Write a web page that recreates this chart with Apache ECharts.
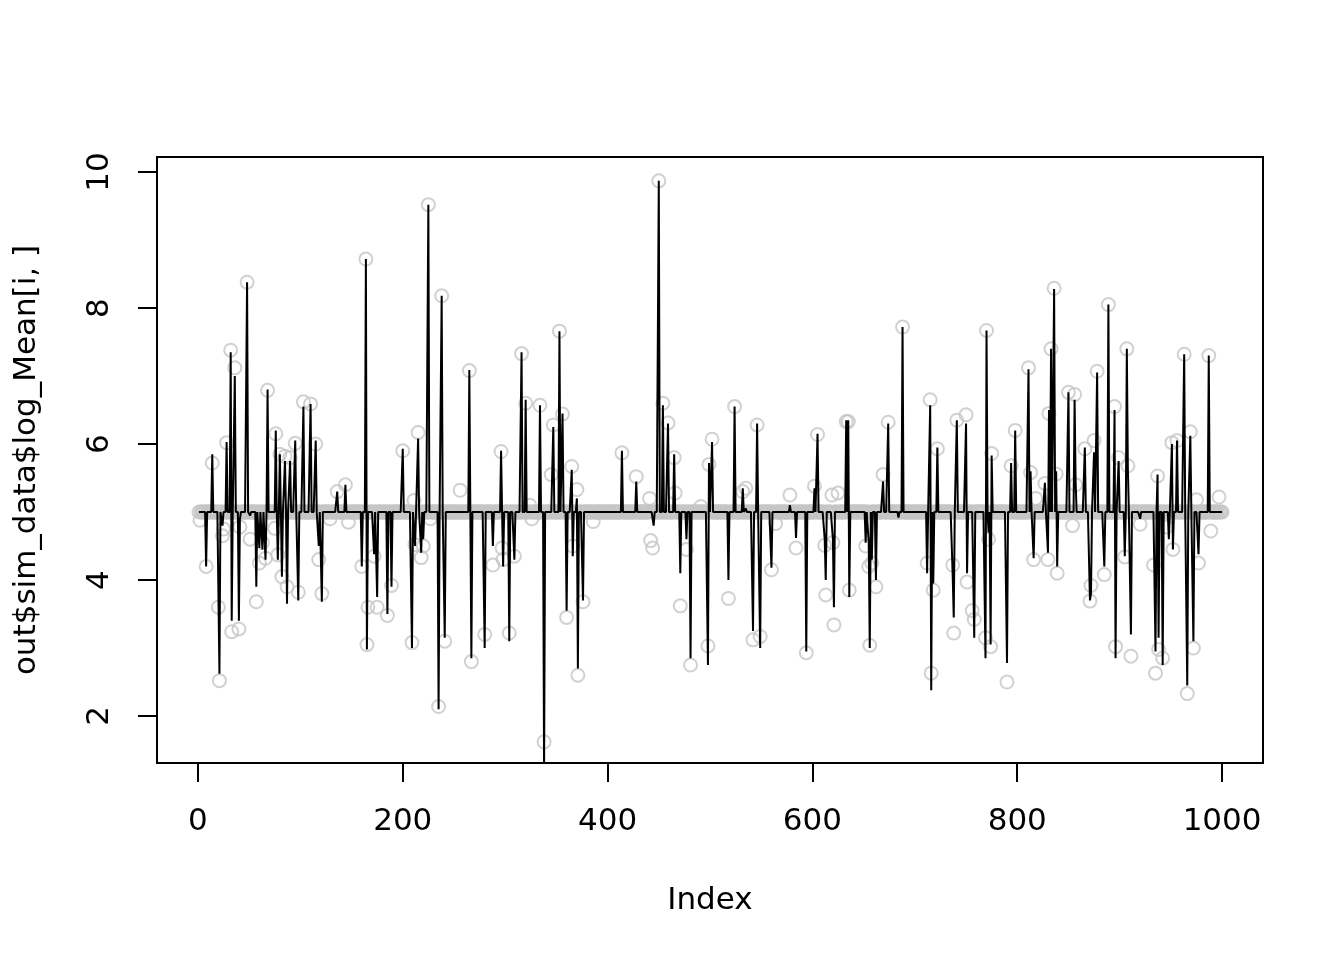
<!DOCTYPE html>
<html>
<head>
<meta charset="utf-8">
<script src="https://cdn.jsdelivr.net/npm/echarts@6/dist/echarts.min.js"></script>
<style>html,body{margin:0;padding:0;background:#fff}#c{width:1344px;height:960px}</style>
</head>
<body>
<div id="c"></div>
<script>
// ---- data ----
const nPoints = 1000;
const baseLevel = 5;

// simulated values (grey circles) that differ from the base level
const simIdx = [2,8,14,20,21,24,25,28,32,33,36,40,41,48,51,57,60,63,66,68,75,76,78,80,82,85,87,90,95,98,103,110,115,118,121,129,136,144,147,160,164,165,166,172,175,185,189,200,209,211,212,215,218,220,225,227,235,238,241,256,265,267,280,288,296,297,298,304,309,316,320,324,326,334,338,345,347,353,356,360,365,366,370,371,376,386,414,428,441,442,444,450,454,459,465,466,471,477,481,491,498,499,502,518,524,532,535,542,546,549,560,564,578,584,594,602,605,612,613,619,620,621,625,633,635,636,652,655,656,658,662,669,674,688,712,715,716,718,722,737,738,741,750,751,756,758,769,770,772,774,775,790,794,798,811,813,816,818,827,830,831,833,836,838,839,850,854,856,857,866,871,872,875,878,885,889,895,896,899,905,907,908,911,920,933,935,937,938,942,946,951,952,956,963,966,969,972,975,977,987,989,997];
const simVal = [4.88,4.2,5.72,3.6,2.52,4.65,4.75,6.02,7.38,3.24,7.12,3.28,4.78,8.38,4.6,3.68,4.25,4.55,4.32,6.79,4.76,6.15,4.37,5.85,4.05,5.82,3.9,5.8,6.01,3.82,6.62,6.59,6.0,4.3,3.8,4.9,5.3,5.4,4.85,4.2,8.72,3.05,3.6,4.35,3.6,3.48,3.92,5.9,3.08,5.17,4.52,6.17,4.33,4.5,9.52,4.9,2.14,8.18,3.1,5.32,7.08,2.8,3.2,4.22,5.89,4.47,4.3,3.22,4.35,7.33,6.6,5.1,4.9,6.57,1.62,5.55,6.28,7.66,6.44,3.45,5.67,4.5,5.33,2.6,3.68,4.86,5.87,5.52,5.2,4.58,4.47,9.87,6.6,6.31,5.8,5.28,3.62,4.45,2.75,5.08,3.03,5.7,6.07,3.73,6.55,5.3,5.35,3.12,6.28,3.17,4.15,4.83,5.25,4.47,2.93,5.38,6.14,4.51,3.78,5.25,4.55,3.34,5.28,6.33,6.33,3.85,4.5,4.2,3.04,4.25,3.9,5.55,6.32,7.72,4.25,6.65,2.63,3.85,5.93,4.22,3.22,6.35,6.43,3.97,3.55,3.42,3.15,7.67,4.6,3.02,5.86,2.5,5.68,6.2,7.12,5.58,4.3,5.2,5.42,4.3,6.45,7.4,8.29,5.56,4.1,6.76,4.8,6.73,5.4,5.93,3.69,3.92,6.05,7.07,4.08,8.05,6.55,3.02,5.8,4.34,7.4,5.68,2.88,4.82,4.22,2.63,5.53,2.98,2.85,4.78,6.02,4.45,6.05,7.32,2.33,6.18,3.0,5.18,4.25,7.3,4.72,5.22];

// estimated values (black line) that differ from the base level
const estIdx = [8,14,21,24,28,32,33,36,40,41,48,51,57,60,63,66,68,76,78,80,82,85,87,90,95,98,103,110,115,118,121,136,144,160,164,165,172,175,185,189,200,209,212,215,218,220,225,235,238,241,265,267,280,288,296,298,304,309,316,320,334,338,347,353,356,360,365,366,370,371,376,414,428,445,450,454,459,465,471,477,481,498,499,502,518,524,532,535,542,546,549,560,578,584,594,602,605,612,613,620,621,633,635,636,652,655,656,658,662,669,674,684,688,712,715,716,718,722,737,738,741,750,751,758,769,770,772,774,775,790,794,798,811,813,816,827,830,831,833,836,838,839,850,856,857,866,871,872,875,878,885,889,895,896,899,905,907,908,911,920,935,937,938,942,948,951,952,956,963,966,969,972,977,987];
const estVal = [4.2,5.85,2.62,4.8,6.03,7.35,3.4,7.0,3.4,4.9,8.38,4.95,3.9,4.47,4.45,4.3,6.8,6.2,4.3,5.85,4.05,5.75,3.65,5.75,6.05,3.7,6.55,6.59,6.05,4.5,3.68,5.3,5.4,4.2,8.72,2.98,4.38,3.75,3.5,3.9,5.93,3.0,4.5,6.08,4.4,4.6,9.52,2.1,8.18,3.15,7.09,2.85,3.0,4.5,5.9,4.2,3.1,4.3,7.35,6.65,6.57,1.2,6.25,7.66,6.45,3.55,5.62,4.35,5.2,2.7,3.7,5.9,5.45,4.8,9.87,6.57,6.3,5.85,4.1,4.6,2.85,2.75,5.72,6.03,4.0,6.55,5.35,5.05,3.25,6.3,3.0,4.18,5.1,4.62,2.95,5.35,6.15,4.6,4.0,4.6,3.6,6.35,6.35,3.75,4.55,4.55,3.0,4.3,4.0,5.45,6.3,4.92,7.72,4.1,6.57,2.38,3.95,5.95,4.05,3.45,6.35,6.3,4.1,3.15,2.85,7.67,4.7,3.05,5.83,2.78,5.72,6.2,7.1,5.6,4.32,5.43,4.4,6.5,7.4,8.28,5.6,4.2,6.76,6.65,5.45,5.95,3.7,3.8,5.88,7.05,4.2,8.05,6.5,2.85,5.75,4.35,7.4,5.65,3.2,4.9,2.95,5.55,3.15,2.75,4.6,6.0,4.45,6.05,7.32,2.45,6.12,3.1,4.38,7.3];

const xTicks = [0, 200, 400, 600, 800, 1000];
const yTicks = [2, 4, 6, 8, 10];
const xTitle = 'Index';
const yTitle = 'out$sim_data$log_Mean[i, ]';

// ---- build series data ----
function buildSeries(idx, val) {
  const out = [];
  for (let i = 1; i <= nPoints; i++) out.push([i, baseLevel]);
  idx.forEach((k, j) => { out[k - 1] = [k, val[j]]; });
  return out;
}
const simData = buildSeries(simIdx, simVal);
const estData = buildSeries(estIdx, estVal);

const FONT = 'DejaVu Sans';
const chart = echarts.init(document.getElementById('c'), null, {renderer: 'canvas'});
chart.setOption({
  animation: false,
  backgroundColor: '#ffffff',
  grid: {left: 157, right: 81, top: 157, bottom: 197, show: true, borderColor: '#000', borderWidth: 2, backgroundColor: 'transparent'},
  xAxis: {
    type: 'value', min: -39.96, max: 1039.96,
    axisLine: {show: false, onZero: false},
    splitLine: {show: false},
    axisTick: {show: true, customValues: xTicks, length: 19, lineStyle: {color: '#000', width: 2}},
    axisLabel: {customValues: xTicks, formatter: (v) => String(v), fontFamily: FONT, fontSize: 31, color: '#000', margin: 59, verticalAlign: 'middle'},
    name: xTitle, nameLocation: 'middle', nameGap: 138,
    nameTextStyle: {fontFamily: FONT, fontSize: 31, color: '#000', verticalAlign: 'middle'}
  },
  yAxis: {
    type: 'value', min: 1.309, max: 10.221,
    axisLine: {show: false, onZero: false},
    splitLine: {show: false},
    axisTick: {show: true, customValues: yTicks, length: 19, lineStyle: {color: '#000', width: 2}},
    axisLabel: {customValues: yTicks, formatter: (v) => String(v), fontFamily: FONT, fontSize: 31, color: '#000', margin: 57, rotate: 90, align: 'center', verticalAlign: 'middle'},
    name: yTitle, nameLocation: 'middle', nameGap: 130, nameRotate: 90,
    nameTextStyle: {fontFamily: FONT, fontSize: 31, color: '#000', align: 'center', verticalAlign: 'middle'}
  },
  series: [
    {
      type: 'scatter', data: simData, symbol: 'circle', symbolSize: 13,
      itemStyle: {color: 'rgba(0,0,0,0)', borderColor: '#c6c6c6', borderWidth: 2},
      emphasis: {disabled: true}, z: 2, clip: true
    },
    {
      type: 'line', data: estData, showSymbol: false, symbol: 'none',
      lineStyle: {color: '#000', width: 2}, z: 3, clip: true, sampling: 'none',
      emphasis: {disabled: true}
    }
  ]
});
</script>
</body>
</html>
